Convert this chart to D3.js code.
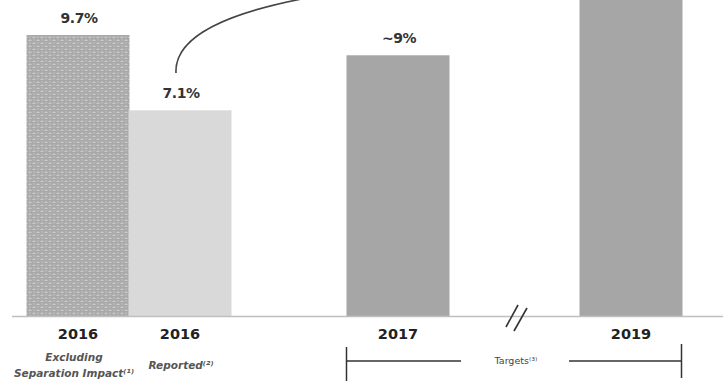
<!DOCTYPE html>
<html><head><meta charset="utf-8">
<script src="https://cdn.jsdelivr.net/npm/d3@7"></script>
<style>html,body{margin:0;padding:0;background:#fff;overflow:hidden}</style>
</head><body>
<svg id="c" width="723" height="381"></svg>
<script>
const keys = ["2016x","2016r","2017","2019"];
const years = ["2016","2016","2017","2019"];
const values = [9.7, 7.1, 9.0, 12.0];
const valueLabels = ["9.7%","7.1%","~9%",""];
const subLabels = [["Excluding","Separation Impact\u207D\u00B9\u207E"],["Reported\u207D\u00B2\u207E"],[],[]];
const targetLabel = "Targets\u207D\u00B3\u207E";

const svg = d3.select("#c");
const defs = svg.append("defs");
const pat = defs.append("pattern").attr("id","tex").attr("patternUnits","userSpaceOnUse")
  .attr("width",8).attr("height",6);
pat.append("rect").attr("width",8).attr("height",6).attr("fill","#a9a9a9");
pat.append("path").attr("d","M0.5,1.5 Q2,0.5 3.5,1.5 M4.5,4.5 Q6,3.5 7.5,4.5").attr("stroke","#d6d6d6").attr("stroke-width",1).attr("fill","none");
pat.append("path").attr("d","M1,4 h2 M5,1 h2").attr("stroke","#c8c8c8").attr("stroke-width",0.8);

const base = 316;
const y = d3.scaleLinear().domain([0, 9.7]).range([base, 35]);
const x = d3.scaleOrdinal().domain(keys).range([78, 180, 398, 631]);
const bw = 103;
const fills = ["url(#tex)", "#d9d9d9", "#a6a6a6", "#a6a6a6"];

svg.selectAll("rect.bar").data(keys).enter().append("rect").attr("class","bar")
  .attr("x", k => x(k) - bw/2)
  .attr("width", bw)
  .attr("y", (k,i) => y(values[i]))
  .attr("height", (k,i) => base - y(values[i]))
  .attr("fill", (k,i) => fills[i]);

// axis line
svg.append("line").attr("x1",12).attr("x2",723).attr("y1",base+0.5).attr("y2",base+0.5)
  .attr("stroke","#bfbfbf").attr("stroke-width",1.5);

// value labels
svg.selectAll("text.val").data(keys).enter().append("text").attr("class","val")
  .attr("x", k => x(k) + 1)
  .attr("y", (k,i) => y(values[i]) - 12)
  .attr("text-anchor","middle")
  .attr("font-family","'DejaVu Sans', sans-serif").attr("font-weight","bold").attr("font-size",14)
  .attr("fill","#333").attr("letter-spacing","-0.5")
  .text((k,i) => valueLabels[i]);

// year labels
svg.selectAll("text.yr").data(keys).enter().append("text").attr("class","yr")
  .attr("x", k => x(k))
  .attr("y", 339)
  .attr("text-anchor","middle")
  .attr("font-family","'DejaVu Sans', sans-serif").attr("font-weight","bold").attr("font-size",14.5)
  .attr("fill","#222")
  .text((k,i) => years[i]);

// sub labels
keys.forEach((k,i) => {
  const lines = subLabels[i];
  const y0 = lines.length === 2 ? 361 : 369;
  lines.forEach((t,j) => {
    svg.append("text").attr("x", x(k) + (lines.length===1?1:-4)).attr("y", y0 + j*16)
      .attr("text-anchor","middle")
      .attr("font-family","'DejaVu Sans', sans-serif").attr("font-style","italic").attr("font-weight","bold")
      .attr("font-size",10.5).attr("fill","#555").text(t);
  });
});

// target bracket
const xl = x("2017") - bw/2, xr = x("2019") + bw/2 - 1;
const by = 361;
const g = svg.append("g").attr("stroke","#333").attr("stroke-width",1.5);
g.append("line").attr("x1",xl).attr("x2",xl).attr("y1",347).attr("y2",381);
g.append("line").attr("x1",xl).attr("x2",461).attr("y1",by).attr("y2",by);
g.append("line").attr("x1",569).attr("x2",xr).attr("y1",by).attr("y2",by);
g.append("line").attr("x1",xr).attr("x2",xr).attr("y1",344).attr("y2",378);
svg.append("text").attr("x",516).attr("y",by+3).attr("text-anchor","middle")
  .attr("font-family","'DejaVu Sans', sans-serif").attr("font-size",9.5).attr("fill","#444").text(targetLabel);

// break marks
const bg = svg.append("g").attr("stroke","#333").attr("stroke-width",1.6);
bg.append("line").attr("x1",506).attr("y1",327).attr("x2",518).attr("y2",305);
bg.append("line").attr("x1",514).attr("y1",331).attr("x2",527).attr("y2",308);

// curve
svg.append("path").attr("d","M176,73 C174,35 230,12 312,-3").attr("fill","none")
  .attr("stroke","#444").attr("stroke-width",1.6);
</script>
</body></html>
